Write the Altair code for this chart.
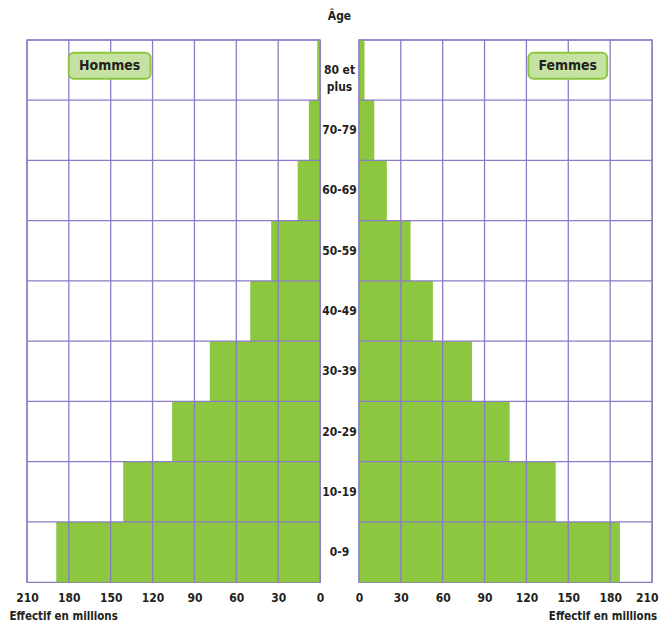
import altair as alt
import pandas as pd

ages = ["80 et plus", "70-79", "60-69", "50-59", "40-49", "30-39", "20-29", "10-19", "0-9"]
age_labels = ["80 et\nplus", "70-79", "60-69", "50-59", "40-49", "30-39", "20-29", "10-19", "0-9"]
hommes = [2, 8, 16, 35, 50, 79, 106, 141, 189]
femmes = [4, 11, 20, 37, 53, 81, 108, 141, 187]
ticks = [0, 30, 60, 90, 120, 150, 180, 210]

df = pd.DataFrame({"age": ages, "label": age_labels, "hommes": hommes, "femmes": femmes})
tick_df = pd.DataFrame({"v": ticks})

FONT = "DejaVu Sans Condensed"
GREEN = "#8dc63f"
LIGHT = "#c6e2a2"
PURPLE = "#8a7cc6"
TEXT = "#231f20"

W_SIDE = 294
H = 544
W_MID = 39

yscale = alt.Scale(domain=ages, paddingInner=0, paddingOuter=0)


def side(field, reverse, title_x, box_x, box_x2, label, edge_fix):
    xs = alt.Scale(domain=[0, 210], reverse=reverse, nice=False, zero=True)
    axis_kw = dict(values=ticks, title="Effectif en millions", grid=False,
                   ticks=False, domain=False, labelFlush=False,
                   labelFont=FONT, labelFontSize=12, labelFontWeight="bold",
                   labelColor=TEXT, labelPadding=10,
                   titleFont=FONT, titleFontSize=11.5, titleFontWeight="bold",
                   titleColor=TEXT, titleX=title_x, titleY=34,
                   titleAlign="left", titleBaseline="middle")
    if edge_fix:
        axis_kw["labelAlign"] = {"condition": {"test": "datum.value === 210", "value": "right"},
                                 "value": "center"}
        axis_kw["labelOffset"] = {"condition": {"test": "datum.value === 210", "value": 6},
                                  "value": 0}
    bars = alt.Chart(df).mark_bar(color=GREEN).encode(
        x=alt.X(f"{field}:Q", scale=xs, axis=alt.Axis(**axis_kw)),
        y=alt.Y("age:N", scale=yscale, axis=None),
    )
    vgrid = alt.Chart(tick_df).mark_rule(color=PURPLE, strokeWidth=1.3).encode(
        x=alt.X("v:Q", scale=xs)
    )
    hgrid = alt.Chart(df).mark_rule(color=PURPLE, strokeWidth=1.3).encode(
        y=alt.Y("age:N", scale=yscale, bandPosition=0, axis=None)
    )
    lab = pd.DataFrame({"t": [label]})
    box = alt.Chart(lab).mark_rect(fill=LIGHT, stroke=GREEN, strokeWidth=2, cornerRadius=5).encode(
        x=alt.value(box_x), x2=alt.value(box_x2), y=alt.value(13), y2=alt.value(39)
    )
    txt = alt.Chart(lab).mark_text(font=FONT, fontSize=14, fontWeight="bold", color=TEXT).encode(
        x=alt.value((box_x + box_x2) / 2), y=alt.value(26), text="t:N"
    )
    return alt.layer(bars, vgrid, hgrid, box, txt).properties(width=W_SIDE, height=H)


left = side("hommes", True, -18, 42, 124, "Hommes", False)
right = side("femmes", False, 190, 170, 249, "Femmes", True)

mid = alt.Chart(df).mark_text(font=FONT, fontSize=12, fontWeight="bold", color=TEXT,
                               lineBreak="\n", baseline="middle", lineHeight=17).encode(
    y=alt.Y("age:N", scale=yscale, axis=None),
    x=alt.value(W_MID / 2),
    text="label:N",
).properties(
    width=W_MID, height=H,
    title=alt.TitleParams("Âge", font=FONT, fontSize=12, fontWeight="bold", color=TEXT, offset=16.5),
    view=alt.ViewBackground(stroke="transparent"),
)

chart = alt.hconcat(left, mid, right, spacing=0, bounds="flush").resolve_scale(
    x="independent"
).properties(padding=0).configure_view(stroke=PURPLE, strokeWidth=1.3)

chart.save("out.html", embed_options={"renderer": "svg", "actions": False})
